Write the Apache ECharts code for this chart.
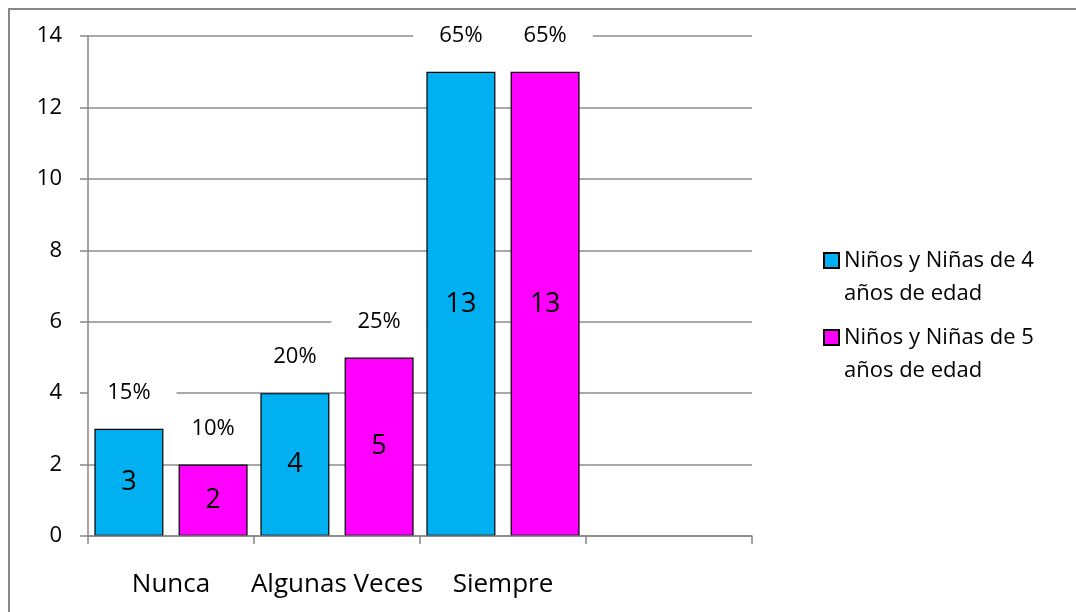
<!DOCTYPE html>
<html>
<head>
<meta charset="utf-8">
<script src="https://cdn.jsdelivr.net/npm/echarts@6/dist/echarts.min.js"></script>
<style>
html,body{margin:0;padding:0;background:#fff;}
#frame{position:absolute;left:8px;top:8px;width:1100px;height:700px;border-left:2px solid #878787;border-top:2px solid #878787;box-sizing:border-box;}
#chart{position:absolute;left:0;top:0;width:1076px;height:612px;}
</style>
</head>
<body>
<div id="frame"></div>
<div id="chart"></div>
<script>
const categories = ['Nunca', 'Algunas Veces', 'Siempre', ''];
const seriesNames = ['Niños y Niñas de 4 años de edad', 'Niños y Niñas de 5 años de edad'];
const age4 = [3, 4, 13, null];
const age5 = [2, 5, 13, null];
const pct4 = ['15%', '20%', '65%'];
const pct5 = ['10%', '25%', '65%'];
const yTicks = { min: 0, max: 14, interval: 2 };

const FONT = 'Open Sans';
const colors = ['#00B0F0', '#FF00FF'];
const AXIS_GREY = '#868686';

function pctMarks(vals, pcts) {
  return pcts.map((p, i) => ({ name: p, coord: [categories[i], vals[i]], value: vals[i] }));
}

function makeSeries(name, vals, pcts, color) {
  return {
    name: name,
    type: 'bar',
    z: 3,
    data: vals,
    barWidth: 69,
    barGap: '22%',
    itemStyle: { color: color, borderColor: '#000', borderWidth: 1.2 },
    label: { show: true, position: 'inside', fontFamily: FONT, fontSize: 27, color: '#000', formatter: p => p.value == null ? '' : String(p.value) },
    markPoint: {
      symbol: 'rect',
      symbolSize: 0,
      silent: true,
      z: 1,
      label: {
        show: true,
        position: 'inside',
        offset: [0, -36],
        formatter: p => p.name,
        fontFamily: FONT,
        fontSize: 22,
        color: '#000',
        backgroundColor: '#fff',
        padding: [8, 26]
      },
      data: pctMarks(vals, pcts)
    }
  };
}

const chart = echarts.init(document.getElementById('chart'), null, { renderer: 'canvas' });
chart.setOption({
  animation: false,
  textStyle: { fontFamily: FONT },
  grid: { left: 88, right: 324, top: 36, bottom: 76 },
  legend: {
    orient: 'vertical',
    left: 823,
    top: 211,
    padding: 0,
    itemWidth: 15,
    itemHeight: 15,
    itemGap: -22,
    icon: 'rect',
    formatter: n => '\n' + n.replace(' años', '\naños'),
    textStyle: { fontFamily: FONT, fontSize: 22, color: '#000', lineHeight: 33 },
    data: seriesNames
  },
  xAxis: {
    type: 'category',
    data: categories,
    boundaryGap: true,
    z: 4,
    axisLine: { lineStyle: { color: AXIS_GREY, width: 1.5 } },
    axisTick: { show: true, length: 8, lineStyle: { color: AXIS_GREY, width: 1.5 } },
    axisLabel: { margin: 36, interval: 0, hideOverlap: false, fontFamily: FONT, fontSize: 26, color: '#000' }
  },
  yAxis: [
    {
      type: 'value',
      position: 'left',
      min: yTicks.min,
      max: yTicks.max,
      interval: yTicks.interval,
      z: 0,
      axisLine: { show: false },
      axisTick: { show: false },
      axisLabel: { margin: 26, fontFamily: FONT, fontSize: 22, color: '#000' },
      splitLine: { show: true, lineStyle: { color: '#8c8c8c', width: 1.5 } }
    },
    {
      type: 'value',
      position: 'left',
      min: yTicks.min,
      max: yTicks.max,
      interval: yTicks.interval,
      z: 4,
      axisLine: { show: true, lineStyle: { color: AXIS_GREY, width: 1.5 } },
      axisTick: { show: true, length: 8, lineStyle: { color: AXIS_GREY, width: 1.5 } },
      axisLabel: { show: false },
      splitLine: { show: false }
    }
  ],
  series: [
    makeSeries(seriesNames[0], age4, pct4, colors[0]),
    makeSeries(seriesNames[1], age5, pct5, colors[1])
  ]
});
</script>
</body>
</html>
